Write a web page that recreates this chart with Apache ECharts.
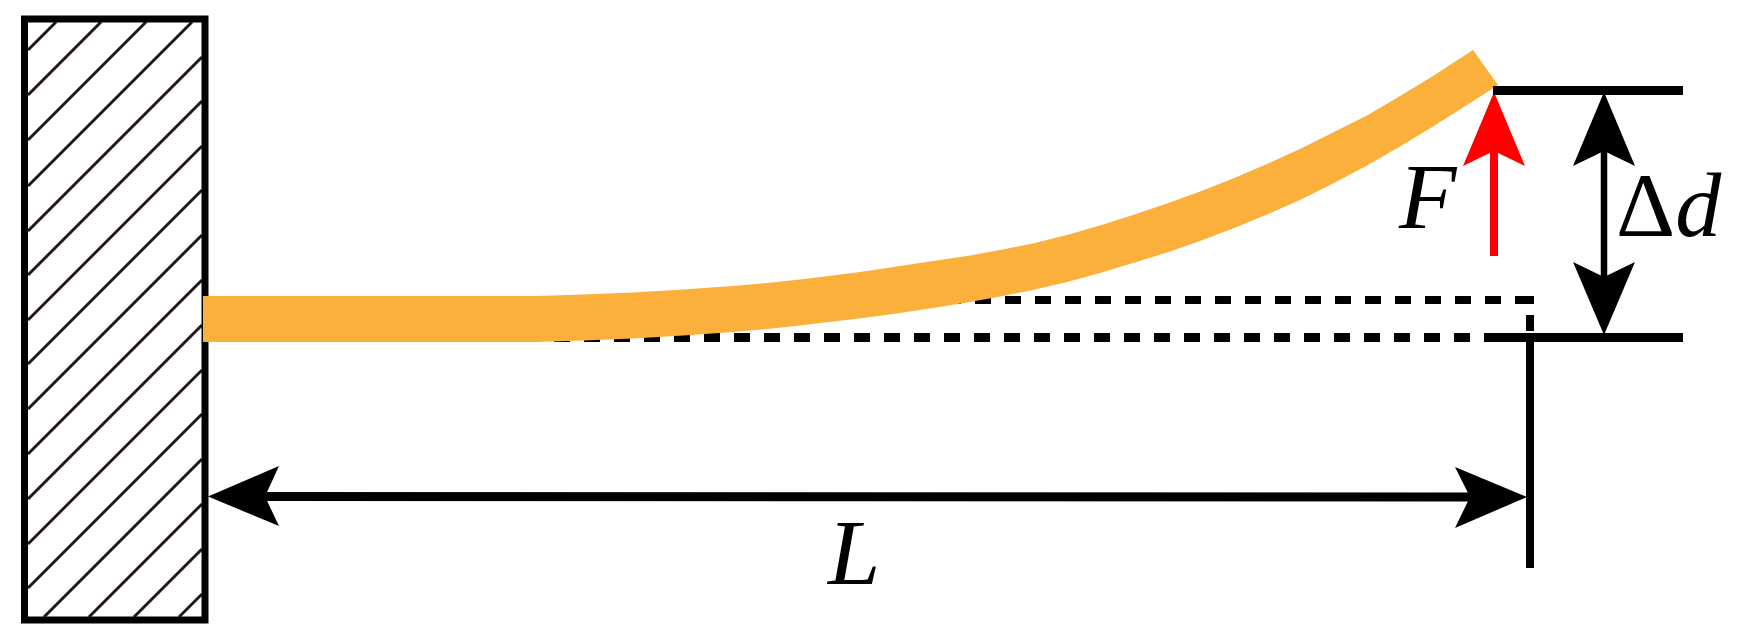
<!DOCTYPE html>
<html>
<head>
<meta charset="utf-8">
<script src="https://cdn.jsdelivr.net/npm/echarts@6/dist/echarts.min.js"></script>
<style>
html,body{margin:0;padding:0;background:#fff;overflow:hidden;}
#main{width:1744px;height:639px;}
</style>
</head>
<body>
<div id="main"></div>
<script>
//axis units are the pixels of the drawing
var wallX = [100, 205, 205, 24.5, 24.5, 100];
var wallY = [19, 19, 620, 620, 19, 19];
//x+y of each hatch line
var hatchOffsets = [78, 123, 168, 214, 259, 303, 348, 392, 437, 482, 527, 572, 616, 661, 706, 751, 796];

//beam edges, left to right
var beamTopX = [203, 537, 583, 633, 683, 733, 767, 800, 833, 867, 900, 933, 967, 1000, 1033, 1067, 1100, 1133, 1167, 1200, 1233, 1267, 1300, 1333, 1367, 1400, 1433, 1473];
var beamTopY = [296, 296, 294.5, 292.5, 289.5, 286, 283, 279.5, 275.5, 271, 266, 261, 256, 250, 243.5, 235, 225.5, 215, 203.5, 191.5, 178.5, 164, 149, 132.5, 115.5, 96, 76, 50];
var beamBottomX = [203, 537, 583, 633, 683, 733, 767, 800, 833, 867, 900, 933, 967, 1000, 1033, 1067, 1100, 1133, 1167, 1200, 1233, 1267, 1300, 1333, 1367, 1400, 1433, 1467, 1498];
var beamBottomY = [342, 342, 340.5, 338.5, 335.5, 332, 329, 325.5, 321.5, 317.5, 313, 308, 302.5, 296.5, 290, 282, 273, 263, 252.5, 241, 228.5, 214.5, 200, 183.5, 165.5, 146.5, 126.5, 105, 85];

var restTopX = [945, 1531];
var restTopY = [300, 300];
var restBottomX = [524, 1470];
var restBottomY = [337.5, 337.5];

var tickTopX = [1493, 1683];
var tickTopY = [90.5, 90.5];
var tickBottomX = [1484, 1683];
var tickBottomY = [337.5, 337.5];

var endDashX = [1530, 1530, null, 1530, 1530];
var endDashY = [296, 304, null, 315, 331];
var endLineX = [1530, 1530];
var endLineY = [338, 568];

var lengthX = [240, 1500];
var lengthY = [496.5, 497];
var deltaX = [1604, 1604];
var deltaY = [151, 277];
var forceX = [1494, 1494];
var forceY = [256, 151];

//arrow heads: tip, barb, notch, barb
var headLengthLeft = [[208, 496.5], [279, 466], [265, 496.5], [279, 526]];
var headLengthRight = [[1527, 497], [1455, 467], [1470, 497], [1455, 528]];
var headDeltaTop = [[1604, 92], [1573, 166], [1604, 151], [1635, 166]];
var headDeltaBottom = [[1604, 335], [1573, 262], [1604, 277], [1635, 262]];
var headForce = [[1494, 92], [1463, 166], [1494, 151], [1525, 166]];

var labelTexts = ['F', 'L', '{a|Δ}{b|d}'];
var labelX = [1399, 828, 1616];
var labelY = [250, 606, 258];

function pts(xs, ys) {
    return xs.map(function (x, i) {
        return x === null ? [null, null] : [x, ys[i]];
    });
}

function hatchData() {
    var out = [];
    hatchOffsets.forEach(function (k) {
        var x0 = Math.max(28, k - 617);
        var x1 = Math.min(202, k - 22);
        out.push([x0, k - x0], [x1, k - x1], [null, null]);
    });
    return out;
}

function lineSeries(z, data, color, width, dash) {
    var s = {
        type: 'line',
        z: z,
        data: data,
        symbol: 'none',
        silent: true,
        clip: false,
        connectNulls: false,
        animation: false,
        lineStyle: {color: color, width: width, join: 'miter', cap: 'butt'}
    };
    if (dash) {
        s.lineStyle.type = dash;
    }
    return s;
}

function polySeries(z, list, color) {
    return {
        type: 'custom',
        z: z,
        silent: true,
        clip: false,
        animation: false,
        data: list.map(function (p, i) { return [i]; }),
        renderItem: function (params, api) {
            return {
                type: 'polygon',
                shape: {points: list[params.dataIndex].map(function (p) { return api.coord(p); })},
                style: {fill: color}
            };
        }
    };
}

var beamOutline = pts(beamTopX, beamTopY).concat(pts(beamBottomX, beamBottomY).reverse());

var chart = echarts.init(document.getElementById('main'));
chart.setOption({
    backgroundColor: '#fff',
    animation: false,
    grid: {left: 0, right: 0, top: 0, bottom: 0},
    xAxis: {type: 'value', min: 0, max: 1744, show: false},
    yAxis: {type: 'value', min: 0, max: 639, inverse: true, show: false},
    series: [
        lineSeries(2, hatchData(), '#231815', 3),
        lineSeries(3, pts(wallX, wallY), '#000', 7),
        lineSeries(4, pts(restTopX, restTopY), '#000', 8, [16, 14]),
        lineSeries(4, pts(restBottomX, restBottomY), '#000', 9, [16, 14]),
        polySeries(5, [beamOutline], '#FBB03B'),
        lineSeries(6, pts(forceX, forceY), '#FF0000', 8),
        polySeries(6, [headForce], '#FF0000'),
        lineSeries(7, pts(tickTopX, tickTopY), '#000', 9),
        lineSeries(7, pts(tickBottomX, tickBottomY), '#000', 9),
        lineSeries(7, pts(endDashX, endDashY), '#000', 8),
        lineSeries(7, pts(endLineX, endLineY), '#000', 8),
        lineSeries(7, pts(lengthX, lengthY), '#000', 9),
        lineSeries(7, pts(deltaX, deltaY), '#000', 6.5),
        polySeries(7, [headLengthLeft, headLengthRight, headDeltaTop, headDeltaBottom], '#000'),
        {
            type: 'custom',
            z: 8,
            silent: true,
            clip: false,
            animation: false,
            data: labelTexts.map(function (t, i) { return [i]; }),
            renderItem: function (params, api) {
                var i = params.dataIndex;
                var p = api.coord([labelX[i], labelY[i]]);
                return {
                    type: 'text',
                    style: {
                        x: p[0],
                        y: p[1],
                        text: labelTexts[i],
                        font: 'italic 94px "Liberation Serif"',
                        fill: '#000',
                        align: 'left',
                        verticalAlign: 'bottom',
                        rich: {
                            a: {fontFamily: 'Liberation Serif', fontSize: 92, fontStyle: 'normal', fill: '#000'},
                            b: {fontFamily: 'Liberation Serif', fontSize: 92, fontStyle: 'italic', fill: '#000'}
                        }
                    }
                };
            }
        }
    ]
});
</script>
</body>
</html>
